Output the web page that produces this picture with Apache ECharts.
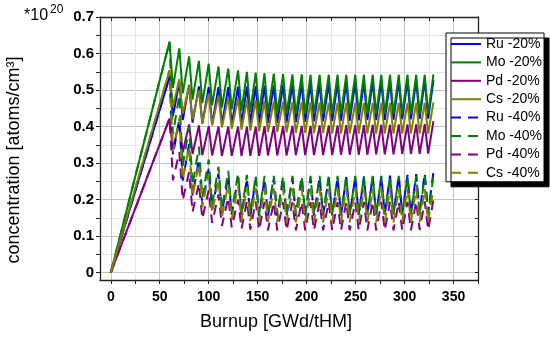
<!DOCTYPE html>
<html>
<head>
<meta charset="utf-8">
<script src="https://cdn.jsdelivr.net/npm/echarts@6/dist/echarts.min.js"></script>
<style>
html,body{margin:0;padding:0;background:#fff;}
#c{width:550px;height:337px;}
</style>
</head>
<body>
<div id="c"></div>
<script>
// ---- data ----
const seriesNames = ['Ru -20%','Mo -20%','Pd -20%','Cs -20%','Ru -40%','Mo -40%','Pd -40%','Cs -40%'];
const xTickValues = [0,25,50,75,100,125,150,175,200,225,250,275,300,325,350,375];
const xLabelValues = [0,50,100,150,200,250,300,350];
const yTickValues = [0,0.05,0.1,0.15,0.2,0.25,0.3,0.35,0.4,0.45,0.5,0.55,0.6,0.65,0.7];
const yLabelValues = [0,0.1,0.2,0.3,0.4,0.5,0.6,0.7];

// burnup at end of each cycle (peaks) and just after removal (troughs)
const peakX = [60,70,80,90,100,110,120,130,139,148,157,166.5,176,185.5,195,204,213.3,222.6,231.6,240.5,249.7,258.5,267.5,276.3,285.2,294.1,303,311.9,320.6,329.5];
const troughX = [63.5,73.5,83.5,93.5,103.5,113.5,123.5,133.5,142.5,151.5,160.5,170,179.5,189,198.5,207.5,216.8,226.1,235.1,244,253.2,262,271,279.8,288.7,297.6,306.5,315.4,324.1];

// -20 % removal
const ruPk20 = [0.536,0.522,0.514,0.510,0.508,0.508,0.508,0.509,0.510,0.511,0.512,0.513,0.514,0.515,0.516,0.517,0.518,0.519,0.520,0.520,0.521,0.522,0.523,0.523,0.524,0.525,0.525,0.526,0.527,0.527];
const ruTr20 = [0.429,0.418,0.411,0.408,0.406,0.406,0.406,0.407,0.408,0.409,0.410,0.410,0.411,0.412,0.413,0.414,0.414,0.415,0.416,0.416,0.417,0.418,0.418,0.418,0.419,0.420,0.420,0.421,0.422];
const moPk20 = [0.632,0.614,0.592,0.580,0.572,0.565,0.559,0.554,0.550,0.548,0.546,0.545,0.544,0.543,0.543,0.542,0.542,0.542,0.542,0.542,0.542,0.542,0.542,0.542,0.542,0.542,0.542,0.542,0.542,0.543];
const moTr20 = [0.506,0.491,0.474,0.464,0.458,0.452,0.447,0.443,0.440,0.438,0.437,0.436,0.435,0.434,0.434,0.434,0.434,0.434,0.434,0.434,0.434,0.434,0.434,0.434,0.434,0.434,0.434,0.434,0.434];
const pdPk20 = [0.422,0.412,0.406,0.403,0.401,0.400,0.400,0.400,0.400,0.400,0.401,0.401,0.401,0.402,0.402,0.402,0.403,0.403,0.403,0.404,0.404,0.404,0.405,0.405,0.405,0.406,0.406,0.406,0.407,0.415];
const pdTr20 = [0.338,0.330,0.325,0.322,0.321,0.320,0.320,0.320,0.320,0.320,0.321,0.321,0.321,0.322,0.322,0.322,0.322,0.322,0.323,0.323,0.323,0.323,0.324,0.324,0.324,0.325,0.325,0.325,0.326];
const csPk20 = [0.554,0.530,0.512,0.500,0.491,0.485,0.480,0.477,0.474,0.472,0.470,0.469,0.468,0.467,0.467,0.466,0.466,0.465,0.465,0.465,0.465,0.465,0.465,0.465,0.465,0.465,0.465,0.465,0.465,0.466];
const csTr20 = [0.454,0.435,0.420,0.410,0.403,0.398,0.394,0.391,0.389,0.387,0.385,0.385,0.384,0.383,0.383,0.382,0.382,0.381,0.381,0.381,0.381,0.381,0.381,0.381,0.381,0.381,0.381,0.381,0.381];

// -40 % removal
const ruPk40 = [0.536,0.420,0.352,0.310,0.286,0.272,0.265,0.262,0.259,0.258,0.258,0.258,0.259,0.259,0.260,0.260,0.261,0.261,0.262,0.262,0.263,0.263,0.264,0.265,0.266,0.267,0.268,0.270,0.273,0.276];
const ruTr40 = [0.322,0.252,0.211,0.186,0.172,0.163,0.159,0.157,0.155,0.155,0.155,0.155,0.155,0.155,0.156,0.156,0.157,0.157,0.157,0.157,0.158,0.158,0.158,0.159,0.160,0.160,0.161,0.162,0.164];
const moPk40 = [0.632,0.487,0.399,0.345,0.310,0.290,0.279,0.272,0.268,0.266,0.265,0.265,0.265,0.265,0.265,0.265,0.265,0.265,0.265,0.265,0.265,0.265,0.265,0.265,0.265,0.265,0.265,0.265,0.265,0.266];
const moTr40 = [0.379,0.292,0.239,0.207,0.186,0.174,0.167,0.163,0.161,0.160,0.159,0.159,0.159,0.159,0.159,0.159,0.159,0.159,0.159,0.159,0.159,0.159,0.159,0.159,0.159,0.159,0.159,0.159,0.159];
const pdPk40 = [0.422,0.330,0.276,0.245,0.226,0.214,0.206,0.200,0.197,0.195,0.194,0.193,0.193,0.193,0.193,0.193,0.193,0.193,0.193,0.193,0.193,0.194,0.194,0.194,0.194,0.194,0.194,0.195,0.195,0.200];
const pdTr40 = [0.253,0.198,0.166,0.147,0.136,0.128,0.124,0.120,0.118,0.117,0.116,0.116,0.116,0.116,0.116,0.116,0.116,0.116,0.116,0.116,0.116,0.116,0.116,0.116,0.116,0.116,0.116,0.117,0.117];
const csPk40 = [0.554,0.424,0.346,0.299,0.271,0.254,0.244,0.238,0.235,0.233,0.232,0.231,0.231,0.230,0.230,0.230,0.230,0.230,0.230,0.230,0.230,0.230,0.230,0.230,0.230,0.230,0.230,0.230,0.230,0.232];
const csTr40 = [0.332,0.254,0.208,0.179,0.163,0.152,0.146,0.143,0.141,0.140,0.139,0.139,0.139,0.138,0.138,0.138,0.138,0.138,0.138,0.138,0.138,0.138,0.138,0.138,0.138,0.138,0.138,0.138,0.138];

const seriesPeaks = [ruPk20, moPk20, pdPk20, csPk20, ruPk40, moPk40, pdPk40, csPk40];
const seriesTroughs = [ruTr20, moTr20, pdTr20, csTr20, ruTr40, moTr40, pdTr40, csTr40];

// ---- build ----
function buildPath(pk, tr) {
  const pts = [[0, 0]];
  for (let i = 0; i < peakX.length; i++) {
    pts.push([peakX[i], pk[i]]);
    if (i < tr.length) pts.push([troughX[i], tr[i]]);
  }
  return pts;
}
const colors = ['#0000ff','#008000','#800080','#808000','#0000ff','#008000','#800080','#808000'];
const FONT = 'Liberation Sans, Arial, sans-serif';

const series = seriesNames.map((name, i) => ({
  name: name,
  type: 'line',
  data: buildPath(seriesPeaks[i], seriesTroughs[i]),
  showSymbol: false,
  symbol: 'none',
  animation: false,
  lineStyle: { color: colors[i], width: 2, type: i < 4 ? 'solid' : [10, 7] },
  itemStyle: { color: colors[i] },
  z: 3
}));

const axisLineStyle = { color: '#222', width: 1.3 };
const chart = echarts.init(document.getElementById('c'), null, { renderer: 'canvas' });
chart.setOption({
  backgroundColor: '#fff',
  animation: false,
  grid: { left: 100, right: 72, top: 17, bottom: 57, containLabel: false },
  xAxis: [
    {
      type: 'value', min: -11, max: 375, position: 'bottom',
      axisLine: { show: true, onZero: false, lineStyle: axisLineStyle },
      axisTick: { show: true, customValues: xTickValues, inside: false, length: 4, lineStyle: { color: '#222' } },
      axisLabel: { show: true, customValues: xLabelValues, color: '#000', fontWeight: 'bold', fontSize: 14, fontFamily: FONT, margin: 10 },
      splitLine: { show: true, lineStyle: { color: ['#c4c4c4', '#e6e6e6'], width: 1 } }
    },
    {
      type: 'value', min: -11, max: 375, position: 'top',
      axisLine: { show: true, onZero: false, lineStyle: axisLineStyle },
      axisTick: { show: true, customValues: xTickValues, inside: true, length: 4, lineStyle: { color: '#222' } },
      axisLabel: { show: false },
      splitLine: { show: false }
    }
  ],
  yAxis: [
    {
      type: 'value', min: -0.02, max: 0.7, position: 'left',
      axisLine: { show: true, onZero: false, lineStyle: axisLineStyle },
      axisTick: { show: true, customValues: yTickValues, inside: false, length: 4, lineStyle: { color: '#222' } },
      axisLabel: { show: true, customValues: yLabelValues, color: '#000', fontWeight: 'bold', fontSize: 15, fontFamily: FONT, margin: 6,
        formatter: v => (v === 0 ? '0' : v.toFixed(1)) },
      splitLine: { show: true, lineStyle: { color: ['#c4c4c4', '#e6e6e6'], width: 1 } }
    },
    {
      type: 'value', min: -0.02, max: 0.7, position: 'right',
      axisLine: { show: true, onZero: false, lineStyle: axisLineStyle },
      axisTick: { show: true, customValues: yTickValues, inside: true, length: 3, lineStyle: { color: '#222' } },
      axisLabel: { show: false },
      splitLine: { show: false }
    }
  ],
  legend: {
    data: seriesNames,
    orient: 'vertical',
    left: 446, top: 33,
    itemWidth: 30, itemHeight: 12, itemGap: 4.4,
    padding: [4, 2, 2, 4],
    backgroundColor: '#fff',
    borderColor: '#000', borderWidth: 1,
    shadowColor: '#000', shadowBlur: 0, shadowOffsetX: 5, shadowOffsetY: 5,
    itemStyle: { opacity: 0 },
    textStyle: { fontSize: 14, color: '#000', fontFamily: FONT },
    selectedMode: false
  },
  graphic: [
    { type: 'text', x: 24, y: 8, style: { text: '*10', fontSize: 16, fontFamily: FONT, fill: '#000' } },
    { type: 'text', x: 50, y: 4, style: { text: '20', fontSize: 12, fontFamily: FONT, fill: '#000' } },
    { type: 'text', x: 14, y: 160, rotation: Math.PI / 2,
      style: { text: 'concentration [atoms/cm³]', fontSize: 18, fontFamily: FONT, fill: '#000', textAlign: 'center', textVerticalAlign: 'middle' } },
    { type: 'text', x: 276, y: 322,
      style: { text: 'Burnup [GWd/tHM]', fontSize: 18, fontFamily: FONT, fill: '#000', textAlign: 'center', textVerticalAlign: 'middle' } }
  ],
  series: series
});
</script>
</body>
</html>
